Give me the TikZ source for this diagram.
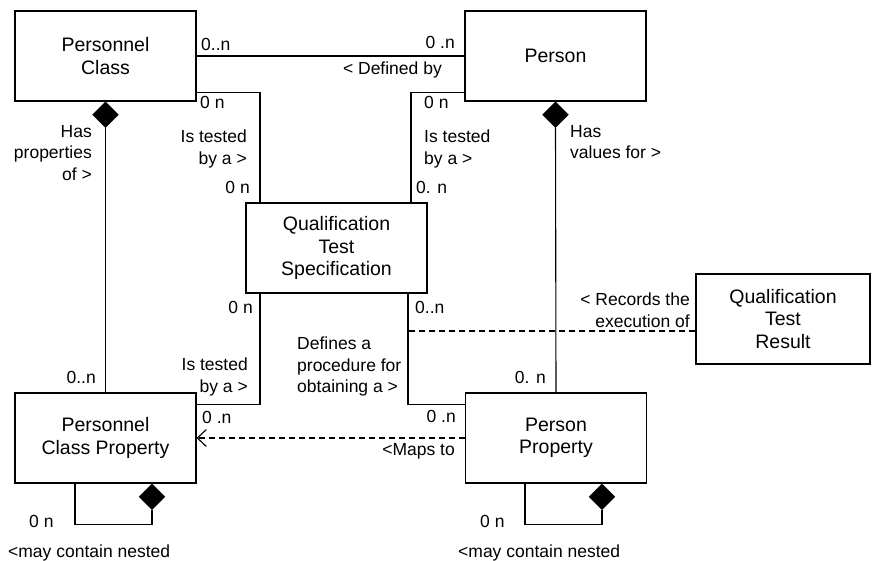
\documentclass[tikz,border=0pt]{standalone}
\usepackage{fontspec}
\setmainfont{Liberation Sans}
\usetikzlibrary{shapes.geometric,arrows.meta}
\begin{document}
\begin{tikzpicture}[x=1pt,y=-1pt,
 box/.style={draw, line width=1.1pt, minimum width=181pt, minimum height=90pt, align=center, inner sep=0pt, font=\fontsize{19.5}{22.5}\selectfont},
 lbl/.style={inner sep=0pt, font=\fontsize{17.5}{21.5}\selectfont},
 conn/.style={line width=1.1pt},
 agg/.style={diamond, fill=black, draw=black, inner sep=0pt, minimum width=26pt, minimum height=26pt, anchor=north},
 dsh/.style={line width=1.1pt, dash pattern=on 6pt off 4pt}]
\useasboundingbox (0,0) rectangle (872,560);
\fill[white] (0,0) rectangle (872,560);
\node[box] (pc) at (105.5,56) {Personnel\\Class};
\node[box] (person) at (555.5,56) {Person};
\node[box] (qts) at (336.5,248) {Qualification\\Test\\Specification};
\node[box] (pcp) at (105.5,438) {Personnel\\Class Property};
\node[box] (pp) at (556,438) {Person\\Property};
\node[box, minimum width=174pt] (qtr) at (783,319) {Qualification\\Test\\Result};
% connectors
\draw[conn] (pc.east) -- (person.west);
\draw[conn] ([yshift=9pt]pc.south east) -| ([xshift=-76.5pt]qts.north);
\draw[conn] ([yshift=9pt]person.south west) -| ([xshift=74.5pt]qts.north);
\draw[conn] ([xshift=-76.5pt]qts.south) |- ([yshift=-12pt]pcp.north east);
\coordinate (qbr) at ([xshift=71.5pt]qts.south);
\draw[conn] (qbr) |- ([yshift=-12pt]pp.north west);
\coordinate (rq) at ([yshift=-12pt]qtr.west);
\draw[dsh] (rq) -- (qbr |- rq);
\node[agg] (d1) at (pc.south) {};
\draw[conn] (d1.south) -- (pcp.north);
\node[agg] (d2) at (person.south) {};
\draw[conn] (d2.south) -- (pp.north);
\draw[dsh, -{Straight Barb[length=9pt,width=17pt]}] (pp.west) -- (pcp.east);
\node[agg] (d3) at ([xshift=46.5pt]pcp.south) {};
\draw[conn] ([xshift=-30.5pt]pcp.south) -- ++(0,41) -| (d3.south);
\node[agg] (d4) at ([xshift=46pt]pp.south) {};
\draw[conn] ([xshift=-31pt]pp.south) -- ++(0,41) -| (d4.south);
% labels
\node[lbl, anchor=base west] (l1) at (201,50) {0..n};
\node[lbl, anchor=base east] (l2) at (455,48) {0 .n};
\node[lbl, anchor=base east] (l3) at (442,74) {< Defined by};
\node[lbl, anchor=base west] (l4) at (200,108) {0 n};
\node[lbl, anchor=north east, align=right] (l5) at (247,130) {Is tested\\by a >};
\node[lbl, anchor=base east] (l6) at (250,193) {0 n};
\node[lbl, anchor=base west] (l7) at (424,108) {0 n};
\node[lbl, anchor=north west, align=left] (l8) at (424,130) {Is tested\\by a >};
\node[lbl, anchor=base west] (l9) at (416,193) {0. n};
\node[lbl, anchor=north east, align=right] (l10) at (92,125) {Has\\properties\\of >};
\node[lbl, anchor=north west, align=left] (l11) at (570,125) {Has\\values for >};
\node[lbl, anchor=base east] (l12) at (253,313) {0 n};
\node[lbl, anchor=base west] (l13) at (415,313) {0..n};
\node[lbl, anchor=north west, align=left] (l14) at (297,337) {Defines a\\procedure for\\obtaining a >};
\node[lbl, anchor=north east, align=right] (l15) at (248,358) {Is tested\\by a >};
\node[lbl, anchor=base west] (l16) at (202,423) {0 .n};
\node[lbl, anchor=base east] (l17) at (456,422) {0 .n};
\node[lbl, anchor=base east] (l18) at (455,455) {<Maps to};
\node[lbl, anchor=base east] (l19) at (96,383) {0..n};
\node[lbl, anchor=base east] (l20) at (546,383) {0. n};
\node[lbl, anchor=north east, align=right] (l21) at (690,293) {< Records the\\execution of};
\node[lbl, anchor=base west] (l22) at (29,527) {0 n};
\node[lbl, anchor=base west] (l23) at (8,557) {<may contain nested};
\node[lbl, anchor=base west] (l24) at (480,527) {0 n};
\node[lbl, anchor=base west] (l25) at (458,557) {<may contain nested};
\end{tikzpicture}
\end{document}
